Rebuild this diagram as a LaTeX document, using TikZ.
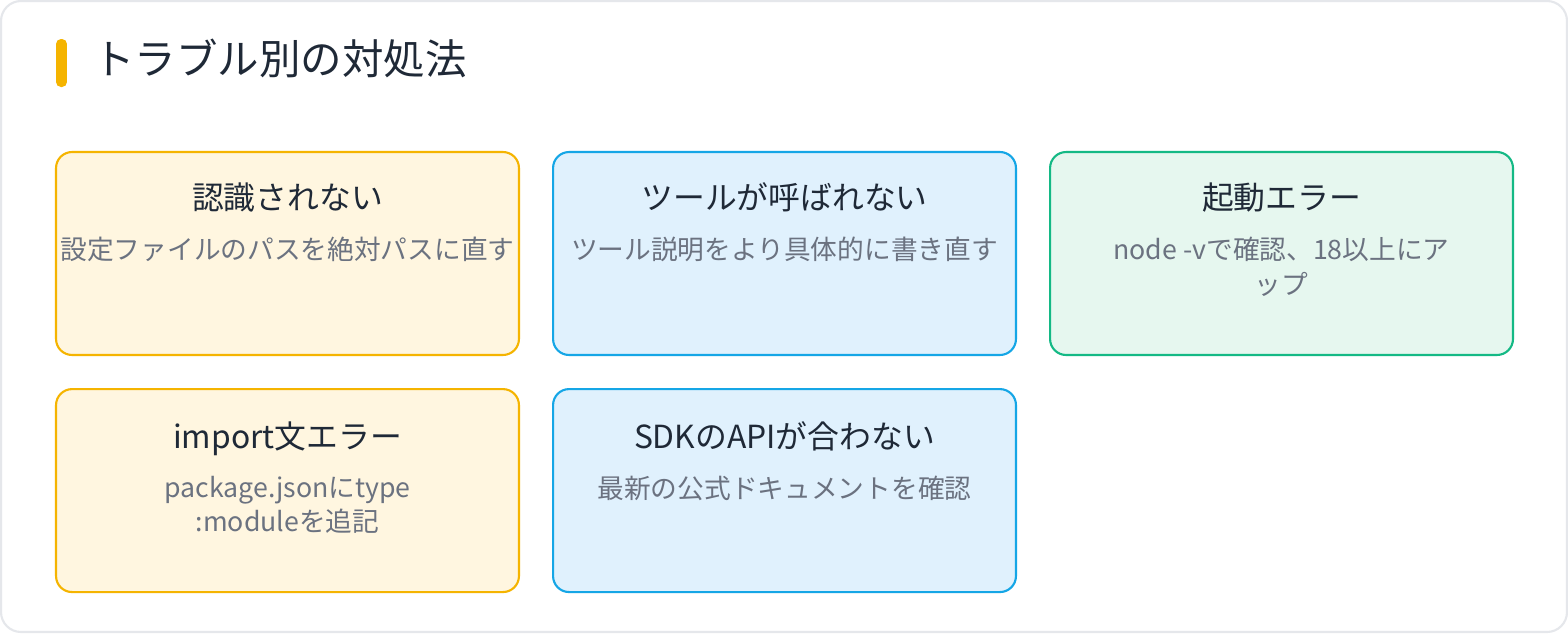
\documentclass[tikz,border=0pt]{standalone}
\usepackage{fontspec}
\setmainfont{Noto Sans CJK JP}
\usetikzlibrary{positioning}
\definecolor{ink}{HTML}{1F2937}
\definecolor{muted}{HTML}{6B7280}
\definecolor{rim}{HTML}{E5E7EB}
\definecolor{amber}{HTML}{F5B400}
\definecolor{amberbg}{HTML}{FFF6E0}
\definecolor{sky}{HTML}{15A6E6}
\definecolor{skybg}{HTML}{E0F1FD}
\definecolor{mint}{HTML}{14B985}
\definecolor{mintbg}{HTML}{E6F7EF}
\tikzset{
  frame/.style={draw=rim,line width=1.2pt,fill=white,rounded corners=0.4cm},
  titlebar/.style={rectangle,rounded corners=0.1cm,fill=amber,minimum width=0.22cm,minimum height=0.96cm,inner sep=0pt},
  titletext/.style={inner sep=0pt,text=ink,font=\fontsize{23.6}{28}\selectfont},
  card/.style={rectangle,rounded corners=0.32cm,line width=1.2pt,minimum width=9.26cm,minimum height=4.06cm,inner sep=0pt},
  warn/.style={card,draw=amber,fill=amberbg},
  info/.style={card,draw=sky,fill=skybg},
  okay/.style={card,draw=mint,fill=mintbg},
  head/.style={anchor=north,inner sep=0pt,text=ink,font=\fontsize{18.1}{22}\selectfont},
  desc/.style={anchor=north,inner sep=0pt,align=center,text=muted,font=\fontsize{15.2}{19.8}\selectfont}
}
\begin{document}
\begin{tikzpicture}[x=0.02cm,y=-0.02cm,node distance=0.64cm and 0.64cm]
  \useasboundingbox (0,0) rectangle (1568,633);
  \draw[frame] (1,1) rectangle (1567,632);
  \node[titlebar] (bar) at (61.5,63) {};
  \node[titletext,anchor=west] (title) at (93,58) {トラブル別の対処法};
  % cards
  \node[warn] (c1) at (287.5,253.5) {};
  \node[info,right=of c1] (c2) {};
  \node[okay,right=of c2] (c3) {};
  \node[warn,below=of c1] (c4) {};
  \node[info,right=of c4] (c5) {};
  % texts
  \node[head] (h1) at ([yshift=-0.62cm]c1.north) {認識されない};
  \node[desc] (d1) at ([yshift=-1.71cm]c1.north) {設定ファイルのパスを絶対パスに直す};
  \node[head] (h2) at ([yshift=-0.62cm]c2.north) {ツールが呼ばれない};
  \node[desc] (d2) at ([yshift=-1.71cm]c2.north) {ツール説明をより具体的に書き直す};
  \node[head] (h3) at ([yshift=-0.62cm]c3.north) {起動エラー};
  \node[desc] (d3) at ([yshift=-1.71cm]c3.north) {node -vで確認、18以上にア\\ップ};
  \node[head] (h4) at ([yshift=-0.66cm]c4.north) {import文エラー};
  \node[desc] (d4) at ([yshift=-1.75cm]c4.north) {package.jsonにtype\\:moduleを追記};
  \node[head] (h5) at ([yshift=-0.66cm]c5.north) {SDKのAPIが合わない};
  \node[desc] (d5) at ([yshift=-1.75cm]c5.north) {最新の公式ドキュメントを確認};
\end{tikzpicture}
\end{document}
